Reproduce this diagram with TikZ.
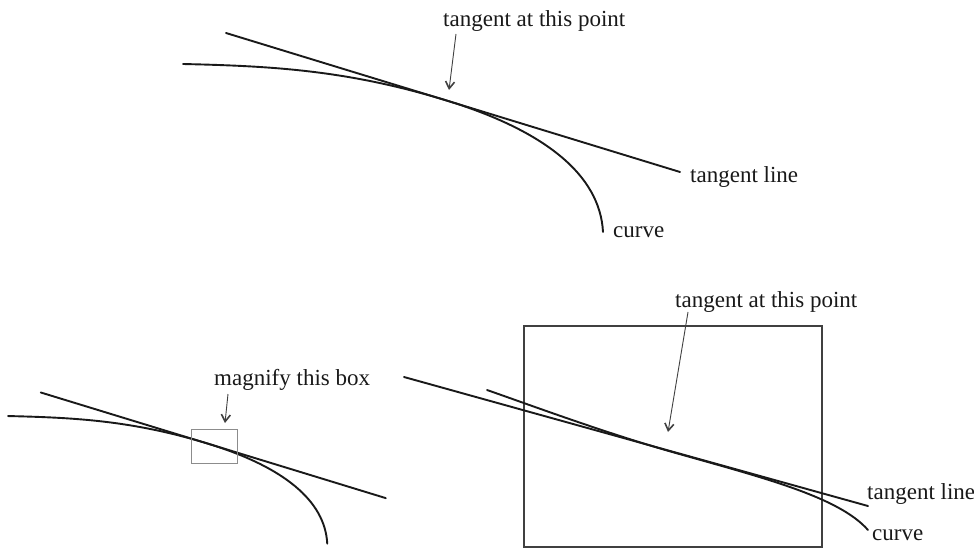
\documentclass[tikz,border=0pt]{standalone}
\usepackage{fontspec}
\setmainfont{Liberation Serif}
\usetikzlibrary{arrows.meta}
\begin{document}
\begin{tikzpicture}[x=1pt,y=-1pt,
  mainline/.style={line width=1.9pt, line cap=round, black!90},
  pointer/.style={line width=0.9pt, black!75, -{Straight Barb[length=7pt,width=9pt,line width=1.6pt]}},
  lbl/.style={inner sep=0pt, anchor=base west, font=\fontsize{23}{27}\selectfont, text=black!90},
  zoombox/.style={line width=1.6pt, black!75},
  smallbox/.style={line width=0.8pt, black!45}]
\useasboundingbox (0,0) rectangle (974,548);

% ---------- top diagram ----------
\coordinate (tlA) at (226,33);
\coordinate (tlB) at (680,172);
\draw[mainline] (tlA) -- (tlB);
\coordinate (cvA) at (183,64);
\coordinate (cvT) at (445,100);
\coordinate (cvB) at (603,232);
\draw[mainline] (cvA) .. controls (268,66) and (345,69.5) .. (cvT)
                      .. controls (545,130.6) and (600,175) .. (cvB);
\node[lbl] (ttop) at (443,27) {tangent at this point};
\node[lbl] (tlinetop) at (690,183) {tangent line};
\node[lbl] (curvetop) at (613,237) {curve};
\coordinate (a1s) at (456,34);
\coordinate (a1t) at (449,90);
\draw[pointer] (a1s) -- (a1t);

% ---------- bottom left (scaled copy) ----------
\begin{scope}[shift={(-131,367.4)}, scale=0.76]
  \coordinate (blA) at (226,33);
  \coordinate (blB) at (680,172);
  \draw[mainline] (blA) -- (blB);
  \coordinate (bcA) at (183,64);
  \coordinate (bcT) at (445,100);
  \coordinate (bcB) at (603,232);
  \draw[mainline] (bcA) .. controls (268,66) and (345,69.5) .. (bcT)
                        .. controls (545,130.6) and (600,175) .. (bcB);
\end{scope}
\draw[smallbox] (191,429) rectangle (237,463);
\node[lbl] (mag) at (214,385) {magnify this box};
\coordinate (a2s) at (228,394);
\coordinate (a2t) at (225,423);
\draw[pointer] (a2s) -- (a2t);

% ---------- bottom right (magnified) ----------
\draw[zoombox] (524,326) rectangle (822,547);
\coordinate (mlA) at (404,377);
\coordinate (mlB) at (868,506);
\draw[mainline] (mlA) -- (mlB);
\coordinate (mcA) at (487,390);
\coordinate (mcT) at (667,450.5);
\coordinate (mcB) at (868,530);
\draw[mainline] (mcA) .. controls (530,405) and (600,431) .. (mcT)
                      .. controls (760,477) and (838,496) .. (mcB);
\node[lbl] (tbot) at (675,307) {tangent at this point};
\node[lbl] (tlinebot) at (867,499) {tangent line};
\node[lbl] (curvebot) at (872,540) {curve};
\coordinate (a3s) at (688,312);
\coordinate (a3t) at (668,432);
\draw[pointer] (a3s) -- (a3t);
\end{tikzpicture}
\end{document}
